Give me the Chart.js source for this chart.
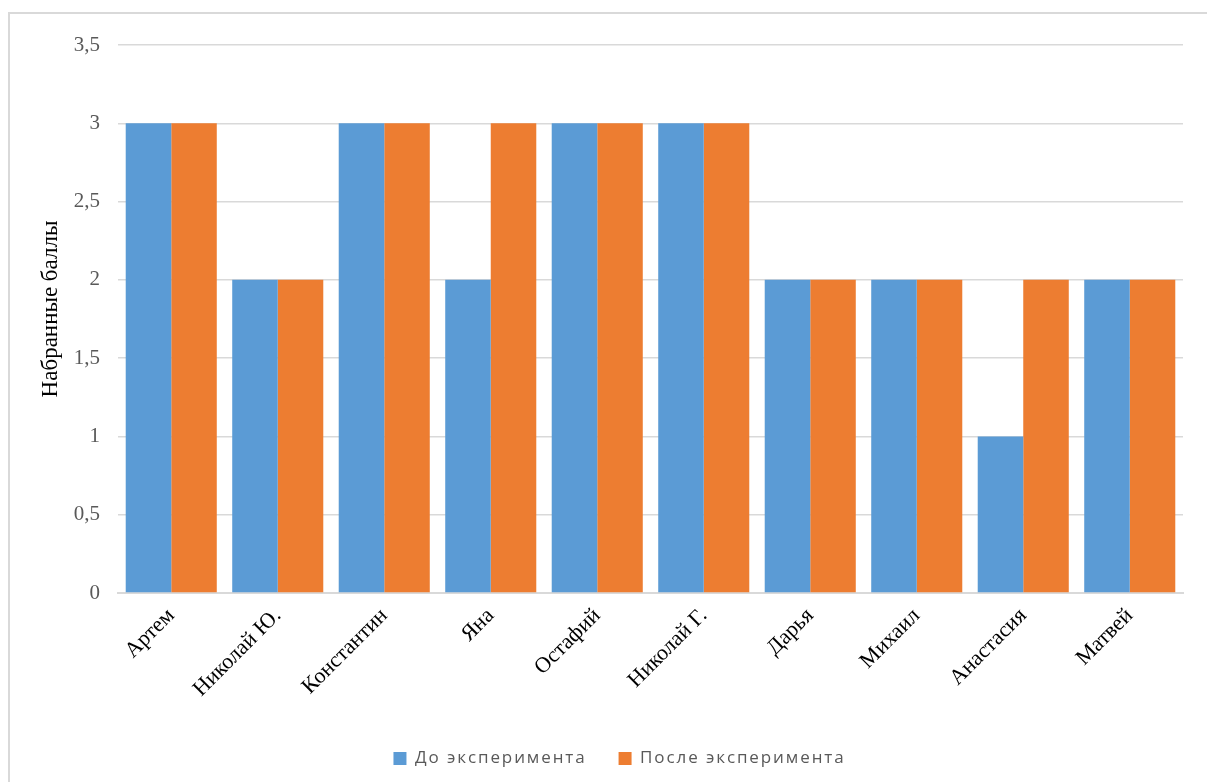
<!DOCTYPE html>
<html>
<head>
<meta charset="utf-8">
<script src="https://cdn.jsdelivr.net/npm/chart.js@4/dist/chart.umd.min.js"></script>
<style>
  html, body { margin: 0; padding: 0; background: #fff; }
  #frame { position: absolute; left: 8px; top: 12px; width: 1220px; height: 800px;
           border-left: 2px solid #d9d9d9; border-top: 2px solid #d9d9d9; }
  #wrap { position: absolute; left: 0; top: 0; width: 1207px; height: 782px; }
</style>
</head>
<body>
<div id="frame"></div>
<div id="wrap"><canvas id="c" width="1207" height="782"></canvas></div>
<script>
const students = ['Артем', 'Николай Ю.', 'Константин', 'Яна', 'Остафий', 'Николай Г.', 'Дарья', 'Михаил', 'Анастасия', 'Матвей'];
const scoresBefore = [3, 2, 3, 2, 3, 3, 2, 2, 1, 2];
const scoresAfter = [3, 2, 3, 3, 3, 3, 2, 2, 2, 2];
const seriesNames = ['До эксперимента', 'После эксперимента'];
const yAxisTitle = 'Набранные баллы';

const serif = '"Liberation Serif", "Times New Roman", serif';

// Legend text gets a little extra letter spacing and a small nudge;
// the y-axis title sits slightly above the middle of the axis.
const layoutTweaks = {
  id: 'layoutTweaks',
  beforeUpdate(chart) {
    const lg = chart.legend;
    if (!lg || lg._tweaked) return;
    lg._tweaked = true;
    const fit = lg.fit, draw = lg.draw;
    lg.fit = function () {
      const ctx = chart.ctx;
      ctx.letterSpacing = '1.9px';
      const r = fit.apply(lg, arguments);
      ctx.letterSpacing = '0px';
      return r;
    };
    lg.draw = function () {
      const ctx = chart.ctx;
      ctx.save();
      ctx.letterSpacing = '1.9px';
      ctx.translate(11, 3);
      const r = draw.apply(lg, arguments);
      ctx.restore();
      ctx.letterSpacing = '0px';
      return r;
    };
  },
  beforeDraw(chart) {
    const s = chart.scales.y;
    if (!s || s._tweaked) return;
    s._tweaked = true;
    const drawTitle = s.drawTitle;
    s.drawTitle = function () {
      const ctx = chart.ctx;
      ctx.save();
      ctx.translate(3, -10);
      drawTitle.apply(s, arguments);
      ctx.restore();
    };
  }
};

new Chart(document.getElementById('c'), {
  type: 'bar',
  data: {
    labels: students,
    datasets: [
      { label: seriesNames[0], data: scoresBefore, backgroundColor: '#5B9BD5' },
      { label: seriesNames[1], data: scoresAfter, backgroundColor: '#ED7D31' }
    ]
  },
  plugins: [layoutTweaks],
  options: {
    responsive: false,
    animation: false,
    devicePixelRatio: 1,
    layout: { padding: { left: 34, right: 24, top: 45, bottom: 8 } },
    datasets: { bar: { categoryPercentage: 0.855, barPercentage: 1 } },
    plugins: {
      tooltip: { enabled: false },
      legend: {
        position: 'bottom',
        labels: {
          boxWidth: 13, boxHeight: 13, padding: 32,
          color: '#595959',
          font: { family: '"Open Sans", "Noto Sans", sans-serif', size: 17 }
        }
      }
    },
    scales: {
      x: {
        grid: { display: false, drawTicks: false },
        border: { color: '#d9d9d9', width: 2 },
        ticks: {
          maxRotation: 45, minRotation: 45, padding: 10,
          color: '#000',
          font: { family: serif, size: 22 }
        },
        afterFit: (s) => { s.height = 122; }
      },
      y: {
        min: 0, max: 3.5,
        grid: { color: '#d9d9d9', lineWidth: 1.5, drawTicks: false },
        border: { display: false },
        ticks: {
          stepSize: 0.5, padding: 18,
          color: '#595959',
          font: { family: serif, size: 21 },
          callback: (v) => String(v).replace('.', ',')
        },
        title: {
          display: true, text: yAxisTitle,
          color: '#000',
          font: { family: serif, size: 23 },
          padding: { top: 0, bottom: 10 }
        },
        afterFit: (s) => { s.width = 84; }
      }
    }
  }
});
</script>
</body>
</html>
